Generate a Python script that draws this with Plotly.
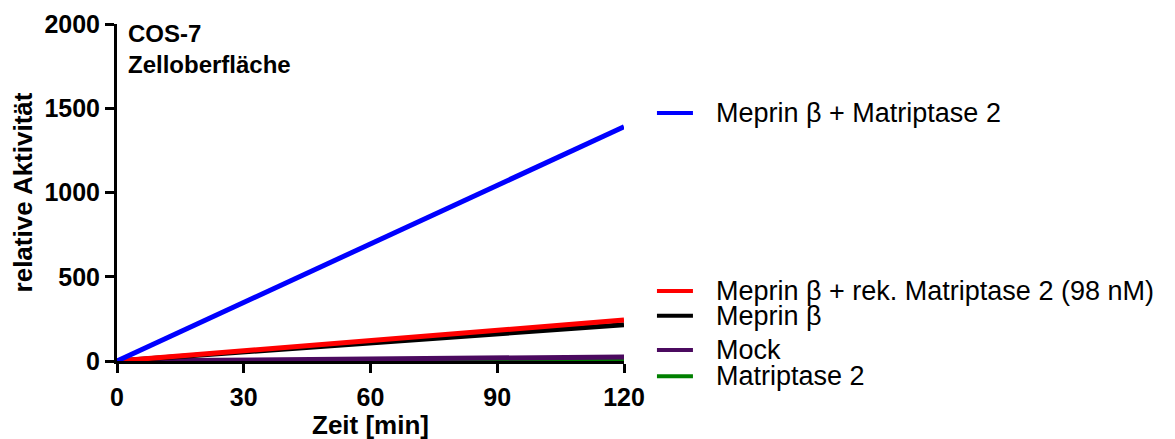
import plotly.graph_objects as go

time_min = [0, 120]
series_names = ["Meprin β + Matriptase 2", "Meprin β + rek. Matriptase 2 (98 nM)",
                "Meprin β", "Mock", "Matriptase 2"]
blue_vals = [0, 1390]
red_vals = [0, 243]
black_vals = [0, 215]
mock_vals = [0, 24]
green_vals = [0, 6]
colors = ["#0000ff", "#ff0000", "#000000", "#4b0a5f", "#008000"]
label_y = [0.736, 0.208, 0.134, 0.033, -0.045]

all_vals = [blue_vals, red_vals, black_vals, mock_vals, green_vals]
FONT = "Liberation Sans, Arial, sans-serif"

fig = go.Figure()
order = [4, 3, 2, 1, 0]
for i in order:
    fig.add_trace(go.Scatter(x=time_min, y=all_vals[i], mode="lines",
                             line=dict(color=colors[i], width=5),
                             name=series_names[i], showlegend=False))

for i, name in enumerate(series_names):
    fig.add_shape(type="line", xref="paper", yref="paper",
                  x0=1.065, x1=1.136, y0=label_y[i], y1=label_y[i],
                  line=dict(color=colors[i], width=4))
    fig.add_annotation(xref="paper", yref="paper", x=1.178, y=label_y[i],
                       text=name, showarrow=False, xanchor="left", yanchor="middle",
                       font=dict(family=FONT, size=27, color="black"))

fig.add_annotation(xref="paper", yref="paper", x=0.018, y=1.017,
                   text="<b>COS-7<br>Zelloberfläche</b>", showarrow=False,
                   xanchor="left", yanchor="top", align="left",
                   font=dict(family=FONT, size=24, color="black"))

# x-axis title
fig.add_annotation(xref="paper", yref="paper", x=0.5, y=-0.19,
                   text="<b>Zeit [min]</b>", showarrow=False,
                   xanchor="center", yanchor="middle",
                   font=dict(family=FONT, size=26, color="black"))

fig.update_layout(
    width=1167, height=431,
    margin=dict(l=109, r=551, t=16, b=78),
    plot_bgcolor="white", paper_bgcolor="white",
    font=dict(family=FONT, color="black"),
    xaxis=dict(range=[0, 120], tickvals=[0, 30, 60, 90, 120],
               ticks="outside", ticklen=9, tickwidth=3, tickcolor="black",
               showline=True, linecolor="black", linewidth=3, showgrid=False,
               zeroline=False, automargin=False, ticklabelstandoff=3,
               tickfont=dict(family=FONT, size=25, weight="bold", color="black")),
    yaxis=dict(range=[0, 2000], tickvals=[0, 500, 1000, 1500, 2000],
               ticks="outside", ticklen=9, tickwidth=3, tickcolor="black",
               showline=True, linecolor="black", linewidth=3, showgrid=False,
               zeroline=False, automargin=False,
               tickfont=dict(family=FONT, size=25, weight="bold", color="black"),
               title=dict(text="<b>relative Aktivität</b>", font=dict(family=FONT, size=26),
                          standoff=6)),
)

fig.write_html("out.html")
